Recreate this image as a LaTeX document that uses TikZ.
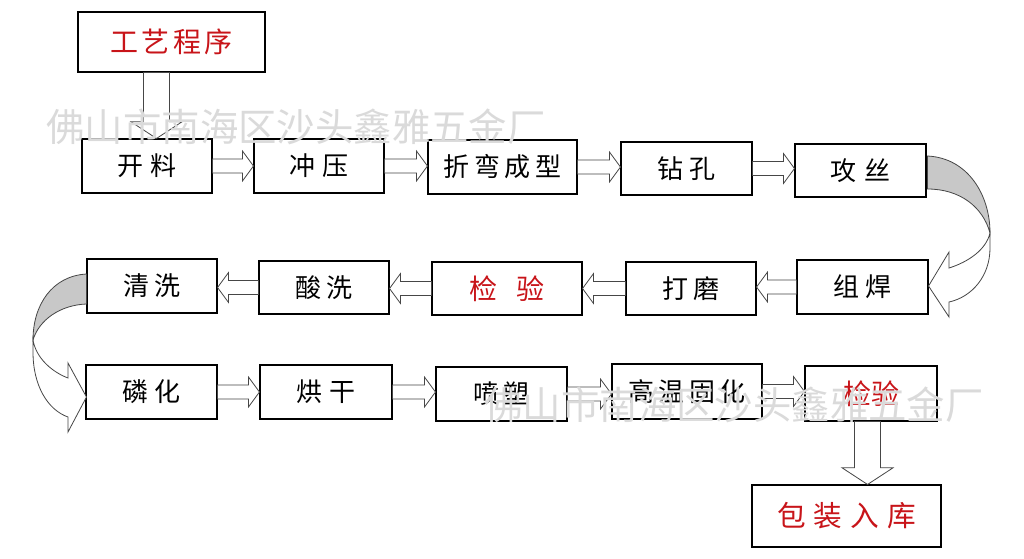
\documentclass[tikz,border=0pt]{standalone}
\usepackage{fontspec}
\newfontfamily\cjk{Noto Sans CJK SC}
\usetikzlibrary{calc}
\definecolor{redtxt}{RGB}{200,20,25}
\definecolor{arrline}{RGB}{70,70,70}
\definecolor{backgray}{RGB}{200,200,200}
\definecolor{wmgray}{RGB}{218,218,218}
\newcommand\blkR[2]{\draw[blk] let \p1=(#1.east), \p2=(#2.west) in
  (\x1,\y1+5.25pt) -- (\x2-8.25pt,\y1+5.25pt) -- (\x2-8.25pt,\y1+11.25pt) -- (\x2,\y1)
  -- (\x2-8.25pt,\y1-11.25pt) -- (\x2-8.25pt,\y1-5.25pt) -- (\x1,\y1-5.25pt) -- cycle;}
\newcommand\blkL[2]{\draw[blk] let \p1=(#1.west), \p2=(#2.east) in
  (\x1,\y1+5.25pt) -- (\x2+8.25pt,\y1+5.25pt) -- (\x2+8.25pt,\y1+11.25pt) -- (\x2,\y1)
  -- (\x2+8.25pt,\y1-11.25pt) -- (\x2+8.25pt,\y1-5.25pt) -- (\x1,\y1-5.25pt) -- cycle;}
\newcommand\blkD[3]{\draw[blk] let \p1=(#1.south), \p2=(#2.north) in
  (\x1+#3-9.75pt,\y1) -- (\x1+#3-9.75pt,\y2+12.5pt) -- (\x1+#3-19.1pt,\y2+12.5pt) -- (\x1+#3,\y2)
  -- (\x1+#3+19.1pt,\y2+12.5pt) -- (\x1+#3+9.75pt,\y2+12.5pt) -- (\x1+#3+9.75pt,\y1) -- cycle;}
\begin{document}
\begin{tikzpicture}[x=0.75pt,y=-0.75pt,
  bx/.style={draw=black, line width=0.8pt, inner sep=0pt, fill=white,
    font=\cjk\fontsize{19.5}{19.5}\selectfont},
  rbx/.style={bx, text=redtxt, font=\cjk\fontsize{21}{21}\selectfont},
  blk/.style={draw=arrline, line width=0.6pt, fill=white},
  cblk/.style={draw=arrline, line width=0.6pt},
  wm/.style={text=wmgray, inner sep=0pt, font=\cjk\fontsize{28.8}{28.8}\selectfont}]
\fill[white] (0,0) rectangle (1024,558);
\useasboundingbox (0,0) rectangle (1024,558);

% boxes
\node[rbx, minimum width=140.25pt, minimum height=45pt] (gy) at (171.5,42) {工\hskip2.5pt 艺\hskip2.5pt 程\hskip2.5pt 序};
\node[bx, minimum width=97.5pt, minimum height=40.5pt] (kl) at (147,166) {开\hskip6pt 料};
\node[bx, minimum width=97.5pt, minimum height=40.5pt] (cy) at (319,166) {冲\hskip6pt 压};
\node[bx, minimum width=111.75pt, minimum height=40.5pt] (zw) at (502.5,167) {折\hskip3.5pt 弯\hskip3.5pt 成\hskip3.5pt 型};
\node[bx, minimum width=98.25pt, minimum height=39.75pt] (zk) at (686.5,168.5) {钻\hskip5pt 孔};
\node[bx, minimum width=98.25pt, minimum height=39.75pt] (gs) at (860.5,170.5) {攻\hskip6pt 丝};

\node[bx, minimum width=97.5pt, minimum height=40.5pt] (qx) at (152,286) {清\hskip4pt 洗};
\node[bx, minimum width=97.5pt, minimum height=39.75pt] (sx) at (324,287.5) {酸\hskip4pt 洗};
\node[rbx, minimum width=112.5pt, minimum height=39.75pt] (jy1) at (507,288.5) {检\hskip14pt 验};
\node[bx, minimum width=97.5pt, minimum height=39.75pt] (dm) at (691,288.5) {打\hskip4pt 磨};
\node[bx, minimum width=98.25pt, minimum height=40.5pt] (zh) at (862.5,287) {组\hskip5pt 焊};

\node[bx, minimum width=98.25pt, minimum height=40.5pt] (lh) at (151.5,392) {磷\hskip4pt 化};
\node[bx, minimum width=99pt, minimum height=40.5pt] (hg) at (326,392) {烘\hskip5pt 干};
\node[bx, minimum width=98.25pt, minimum height=40.5pt] (ps) at (501.5,394) {喷\hskip3pt 塑};
\node[bx, minimum width=112.5pt, minimum height=41.25pt] (gw) at (687,391.5) {高\hskip3.5pt 温\hskip3.5pt 固\hskip3.5pt 化};
\node[rbx, minimum width=99pt, minimum height=41.25pt] (jy2) at (871,393.5) {检验};
\node[rbx, minimum width=141.75pt, minimum height=46.5pt, font=\cjk\fontsize{21.5}{21.5}\selectfont] (bz) at (846.5,516) {包\hskip6pt 装\hskip6pt 入\hskip6pt 库};

% straight block arrows
\blkD{gy}{kl}{-11.25pt}
\blkR{kl}{cy}
\blkR{cy}{zw}
\blkR{zw}{zk}
\blkR{zk}{gs}
\blkL{zh}{dm}
\blkL{dm}{jy1}
\blkL{jy1}{sx}
\blkL{sx}{qx}
\blkR{lh}{hg}
\blkR{hg}{ps}
\blkR{ps}{gw}
\blkR{gw}{jy2}
\blkD{jy2}{bz}{-2.6pt}

% right curved arrow (攻丝 -> 组焊)
\coordinate (ra) at ($(gs.east)+(1,-14.5)$);
\coordinate (rb) at ($(gs.east)+(1,18.5)$);
\coordinate (rt) at ($(zh.east)+(0,-1)$);
\draw[cblk, fill=backgray] (ra) .. controls (968,158) and (990,195) .. (990,233)
  .. controls (983,207) and (960,189) .. (rb) -- cycle;
\draw[cblk, fill=white] (990,233) -- (990,248) .. controls (990,276) and (972,297) .. (949,302)
  -- (949,317) -- (rt) -- (949,252) -- (949,268)
  .. controls (968,262) and (986,250) .. (990,233) -- cycle;

% left curved arrow (清洗 -> 磷化)
\coordinate (la) at ($(qx.west)+(0,-12)$);
\coordinate (lb) at ($(qx.west)+(0,18)$);
\coordinate (lt) at ($(lh.west)+(1,5)$);
\draw[cblk, fill=backgray] (la) .. controls (52,276) and (33,305) .. (33,340)
  .. controls (39,320) and (60,305) .. (lb) -- cycle;
\draw[cblk, fill=white] (33,340) -- (33,352) .. controls (33,386) and (48,410) .. (68,417)
  -- (68,432) -- (lt) -- (68,363) -- (68,378)
  .. controls (52,372) and (36,358) .. (33,340) -- cycle;

% watermarks
\node[wm] (wm1) at (296,127) {佛山市南海区沙头鑫雅五金厂};
\node[wm] (wm2) at (734,405) {佛山市南海区沙头鑫雅五金厂};
\end{tikzpicture}
\end{document}
